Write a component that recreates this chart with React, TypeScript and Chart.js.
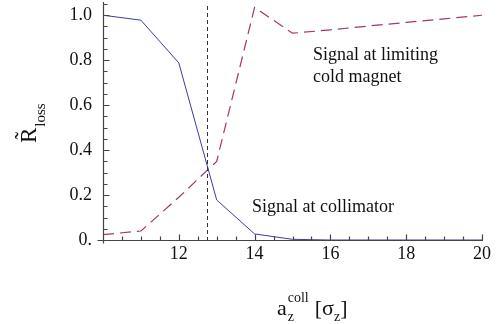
import React, { useEffect, useRef } from "react";
import { Chart, registerables } from "chart.js";

Chart.register(...registerables);

const xValues = [10, 11, 12, 13, 14, 15, 16, 17, 18, 19, 20];
const collimatorSignal = [1.0, 0.978, 0.788, 0.178, 0.027, 0.003, 0, 0, 0, 0, 0];
const coldMagnetSignal = [0.024, 0.04, 0.19, 0.35, 1.035, 0.92, 0.935, 0.952, 0.968, 0.984, 1.0];
const cutPosition = 12.75;
const yTickValues = [0, 0.2, 0.4, 0.6, 0.8, 1.0];
const xTickValues = [12, 14, 16, 18, 20];

const SERIF = '"Liberation Serif", "Times New Roman", serif';

const overlayPlugin = {
  id: "overlay",
  afterDraw(chart: any) {
    const ctx = chart.ctx;
    const xs = chart.scales.x;
    const ys = chart.scales.y;
    const area = chart.chartArea;
    ctx.save();
    // vertical dashed marker
    ctx.strokeStyle = "#333";
    ctx.lineWidth = 1;
    ctx.setLineDash([4, 3]);
    const vx = Math.round(xs.getPixelForValue(cutPosition)) + 0.5;
    ctx.beginPath();
    ctx.moveTo(vx, area.top + 2);
    ctx.lineTo(vx, area.bottom);
    ctx.stroke();
    ctx.setLineDash([]);

    // axes lines (slightly overshooting like the original)
    const left = Math.round(area.left) + 0.5;
    const bottom = Math.round(area.bottom) + 0.5;
    ctx.strokeStyle = "#444";
    ctx.lineWidth = 1.2;
    ctx.beginPath();
    ctx.moveTo(left - 6, bottom);
    ctx.lineTo(area.right + 1, bottom);
    ctx.moveTo(left, bottom + 3);
    ctx.lineTo(left, area.top - 2);
    // inward ticks
    for (let i = 0; i <= 21; i++) {
      const v = i * 0.05;
      const major = i % 4 === 0;
      const py = Math.round(ys.getPixelForValue(v)) + 0.5;
      ctx.moveTo(left, py);
      ctx.lineTo(left + (major ? 6 : 4), py);
    }
    for (let i = 0; i <= 20; i++) {
      const v = 10 + i * 0.5;
      const major = i % 4 === 0;
      const px = Math.round(xs.getPixelForValue(v)) + 0.5;
      ctx.moveTo(px, bottom);
      ctx.lineTo(px, bottom - (major ? 6 : 4));
    }
    ctx.stroke();

    // annotations
    ctx.fillStyle = "#111";
    ctx.font = `18px ${SERIF}`;
    ctx.textAlign = "left";
    ctx.textBaseline = "alphabetic";
    ctx.fillText("Signal at limiting", 313, 60);
    ctx.fillText("cold magnet", 313, 82);
    ctx.fillText("Signal at collimator", 252, 212);

    // x title
    let x = 277;
    const base = 315;
    ctx.font = `22px ${SERIF}`;
    ctx.fillText("a", x, base);
    x += ctx.measureText("a").width + 1;
    ctx.font = `14px ${SERIF}`;
    ctx.fillText("z", x, base + 6);
    ctx.fillText("coll", x, base - 13);
    x += ctx.measureText("coll").width + 6;
    ctx.font = `22px ${SERIF}`;
    ctx.fillText("[σ", x, base);
    x += ctx.measureText("[σ").width;
    ctx.font = `14px ${SERIF}`;
    ctx.fillText("z", x, base + 6);
    x += ctx.measureText("z").width;
    ctx.font = `22px ${SERIF}`;
    ctx.fillText("]", x, base);

    // y title
    ctx.save();
    ctx.translate(36, 143);
    ctx.rotate(-Math.PI / 2);
    ctx.font = `23px ${SERIF}`;
    ctx.fillText("R\u0303", 0, 0);
    const rw = ctx.measureText("R").width;
    ctx.font = `15px ${SERIF}`;
    ctx.fillText("loss", rw + 1, 9);
    ctx.restore();

    ctx.restore();
  },
};

export default function App() {
  const ref = useRef<HTMLCanvasElement | null>(null);
  useEffect(() => {
    if (!ref.current) return;
    const chart = new Chart(ref.current, {
      type: "line",
      data: {
        labels: xValues,
        datasets: [
          {
            data: xValues.map((x, i) => ({ x, y: collimatorSignal[i] })),
            borderColor: "#3b3ba6",
            borderWidth: 1,
            pointRadius: 0,
            tension: 0,
            fill: false,
          },
          {
            data: xValues.map((x, i) => ({ x, y: coldMagnetSignal[i] })),
            borderColor: "#a3346f",
            borderWidth: 1.2,
            borderDash: [11, 6],
            pointRadius: 0,
            tension: 0,
            fill: false,
          },
        ],
      },
      options: {
        animation: false,
        responsive: false,
        maintainAspectRatio: false,
        layout: { padding: { top: 4, right: 17, left: 0, bottom: 0 } },
        plugins: { legend: { display: false }, tooltip: { enabled: false } },
        scales: {
          x: {
            type: "linear",
            min: 10,
            max: 20,
            afterBuildTicks: (s: any) => {
              s.ticks = xTickValues.map((v) => ({ value: v }));
            },
            afterFit: (s: any) => {
              s.height = 84;
              s.paddingLeft = 0;
              s.paddingRight = 0;
            },
            grid: { display: false, drawTicks: false },
            border: { display: false },
            ticks: {
              color: "#111",
              font: { family: SERIF, size: 18 },
              padding: 3,
              maxRotation: 0,
              autoSkip: false,
              callback: (v: any) => String(v),
            },
          },
          y: {
            type: "linear",
            min: 0,
            max: 1.05,
            afterBuildTicks: (s: any) => {
              s.ticks = yTickValues.map((v) => ({ value: v }));
            },
            afterFit: (s: any) => {
              s.width = 103;
              s.paddingTop = 0;
              s.paddingBottom = 0;
            },
            grid: { display: false, drawTicks: false },
            border: { display: false },
            ticks: {
              color: "#111",
              font: { family: SERIF, size: 18 },
              padding: 11,
              autoSkip: false,
              callback: (v: any) => (v === 0 ? "0." : Number(v).toFixed(1)),
            },
          },
        },
      },
      plugins: [overlayPlugin],
    });
    return () => chart.destroy();
  }, []);
  return (
    <div style={{ position: "fixed", left: 0, top: 0, width: 499, height: 324, background: "#fff" }}>
      <canvas ref={ref} width={499} height={324} style={{ width: 499, height: 324 }} />
    </div>
  );
}
